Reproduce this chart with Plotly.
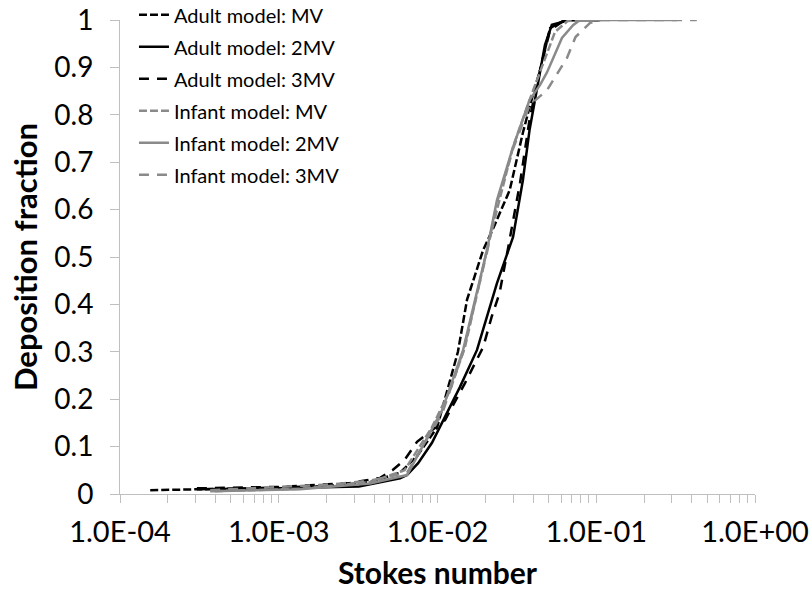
import plotly.graph_objects as go

# Adult model: MV
adult_mv_x = [1.55e-4, 6.6e-4, 2.1e-3, 3.76e-3, 5.81e-3, 7.43e-3, 9.93e-3, 0.01345, 0.01535, 0.0194, 0.0226, 0.0285, 0.0345, 0.038, 0.0443, 0.0512, 0.0635, 0.106]
adult_mv_y = [0.008, 0.012, 0.017, 0.025, 0.045, 0.08, 0.14, 0.30, 0.41, 0.515, 0.563, 0.641, 0.762, 0.816, 0.895, 0.983, 1.0, 1.0]
# Adult model: 2MV
adult_2mv_x = [3.05e-4, 1e-3, 3.2e-3, 5.81e-3, 6.43e-3, 7.55e-3, 9.23e-3, 0.01115, 0.01386, 0.01774, 0.0237, 0.0299, 0.0345, 0.038, 0.042, 0.0475, 0.0525, 0.068, 0.106]
adult_2mv_y = [0.010, 0.012, 0.016, 0.033, 0.040, 0.065, 0.108, 0.162, 0.226, 0.304, 0.445, 0.542, 0.662, 0.768, 0.852, 0.947, 0.990, 1.0, 1.0]
# Adult model: 3MV
adult_3mv_x = [3.05e-4, 1e-3, 2.81e-3, 4.35e-3, 5.2e-3, 6.2e-3, 7.43e-3, 0.01115, 0.0149, 0.0194, 0.0219, 0.0246, 0.0277, 0.0331, 0.038, 0.0443, 0.0512, 0.0635, 0.106]
adult_3mv_y = [0.012, 0.015, 0.023, 0.034, 0.050, 0.072, 0.110, 0.156, 0.234, 0.310, 0.373, 0.424, 0.515, 0.656, 0.790, 0.895, 0.979, 1.0, 1.0]
# Infant model: MV
infant_mv_x = [3.96e-4, 1.36e-3, 3.76e-3, 6.2e-3, 9.23e-3, 0.012, 0.0149, 0.0205, 0.0237, 0.0299, 0.038, 0.0475, 0.055, 0.066, 0.106]
infant_mv_y = [0.006, 0.011, 0.025, 0.050, 0.141, 0.219, 0.310, 0.515, 0.600, 0.732, 0.831, 0.916, 0.975, 0.998, 1.0]
# Infant model: 2MV
infant_2mv_x = [3.7e-4, 1.36e-3, 3.76e-3, 6.43e-3, 0.0107, 0.0145, 0.0205, 0.0237, 0.0299, 0.038, 0.0443, 0.049, 0.0608, 0.0714, 0.079, 0.323]
infant_2mv_y = [0.006, 0.010, 0.022, 0.040, 0.177, 0.304, 0.515, 0.620, 0.732, 0.831, 0.863, 0.890, 0.962, 0.989, 1.0, 1.0]
# Infant model: 3MV
infant_3mv_x = [3.7e-4, 2.1e-3, 3.76e-3, 6.43e-3, 0.0107, 0.0145, 0.0205, 0.0237, 0.0299, 0.038, 0.049, 0.0654, 0.074, 0.0915, 0.106, 0.43]
infant_3mv_y = [0.008, 0.020, 0.028, 0.045, 0.170, 0.300, 0.510, 0.615, 0.728, 0.820, 0.852, 0.920, 0.964, 0.994, 1.0, 1.0]

x_tickvals = [1e-4, 1e-3, 1e-2, 1e-1, 1e0]
x_ticktext = ["1.0E-04", "1.0E-03", "1.0E-02", "1.0E-01", "1.0E+00"]

BLACK = "#000000"
GREY = "#8a8a8a"
SHORT = "8px,3px"
LONG = "10px,8px"

series = [
    ("Adult model: MV", adult_mv_x, adult_mv_y, BLACK, SHORT),
    ("Adult model: 2MV", adult_2mv_x, adult_2mv_y, BLACK, "solid"),
    ("Adult model: 3MV", adult_3mv_x, adult_3mv_y, BLACK, LONG),
    ("Infant model: MV", infant_mv_x, infant_mv_y, GREY, SHORT),
    ("Infant model: 2MV", infant_2mv_x, infant_2mv_y, GREY, "solid"),
    ("Infant model: 3MV", infant_3mv_x, infant_3mv_y, GREY, LONG),
]

# minor tick positions (2..9 within each decade)
minor_vals = [m * 10.0 ** e for e in range(-4, 0) for m in range(2, 10)]

fig = go.Figure()
for i, (name, xs, ys, col, dash) in enumerate(series):
    fig.add_trace(go.Scatter(
        x=xs, y=ys, name=name, mode="lines", legendgroup=f"g{i}",
        line=dict(color=col, width=2.5, dash=dash),
    ))

FONT = "Lato"
AXIS_COL = "#bfbfbf"
fig.update_layout(
    width=812, height=592,
    margin=dict(l=120, r=57, t=20, b=98, autoexpand=False),
    paper_bgcolor="white", plot_bgcolor="white",
    font=dict(family=FONT, color="#000000"),
    showlegend=True,
    legend=dict(
        x=0.022, y=1.052, xanchor="left", yanchor="top",
        font=dict(family=FONT, size=20, color="#000000"),
        bgcolor="rgba(0,0,0,0)", tracegroupgap=3, itemwidth=30,
    ),
    xaxis=dict(
        type="log", range=[-4, 0],
        tickmode="array", tickvals=x_tickvals, ticktext=x_ticktext,
        ticks="outside", ticklen=8, tickcolor=AXIS_COL, tickwidth=1,
        showline=True, linecolor=AXIS_COL, linewidth=1,
        showgrid=False, zeroline=False,
        tickfont=dict(family=FONT, size=29, color="#000000"),
        ticklabelstandoff=4,
        minor=dict(tickmode="array", tickvals=minor_vals, ticks="outside", ticklen=8,
                   tickcolor=AXIS_COL, tickwidth=1, showgrid=False),
        title=dict(text="<b>Stokes number</b>", font=dict(family=FONT, size=30, color="#000000"), standoff=16),
    ),
    yaxis=dict(
        range=[0, 1], dtick=0.1, tick0=0,
        ticks="outside", ticklen=9, tickcolor=AXIS_COL, tickwidth=1,
        showline=True, linecolor=AXIS_COL, linewidth=1,
        showgrid=False, zeroline=False,
        tickfont=dict(family=FONT, size=28, color="#000000"),
        ticklabelstandoff=11,
        title=dict(text="<b>Deposition fraction</b>", font=dict(family=FONT, size=31, color="#000000"), standoff=7),
    ),
)

fig.write_html("out.html")
